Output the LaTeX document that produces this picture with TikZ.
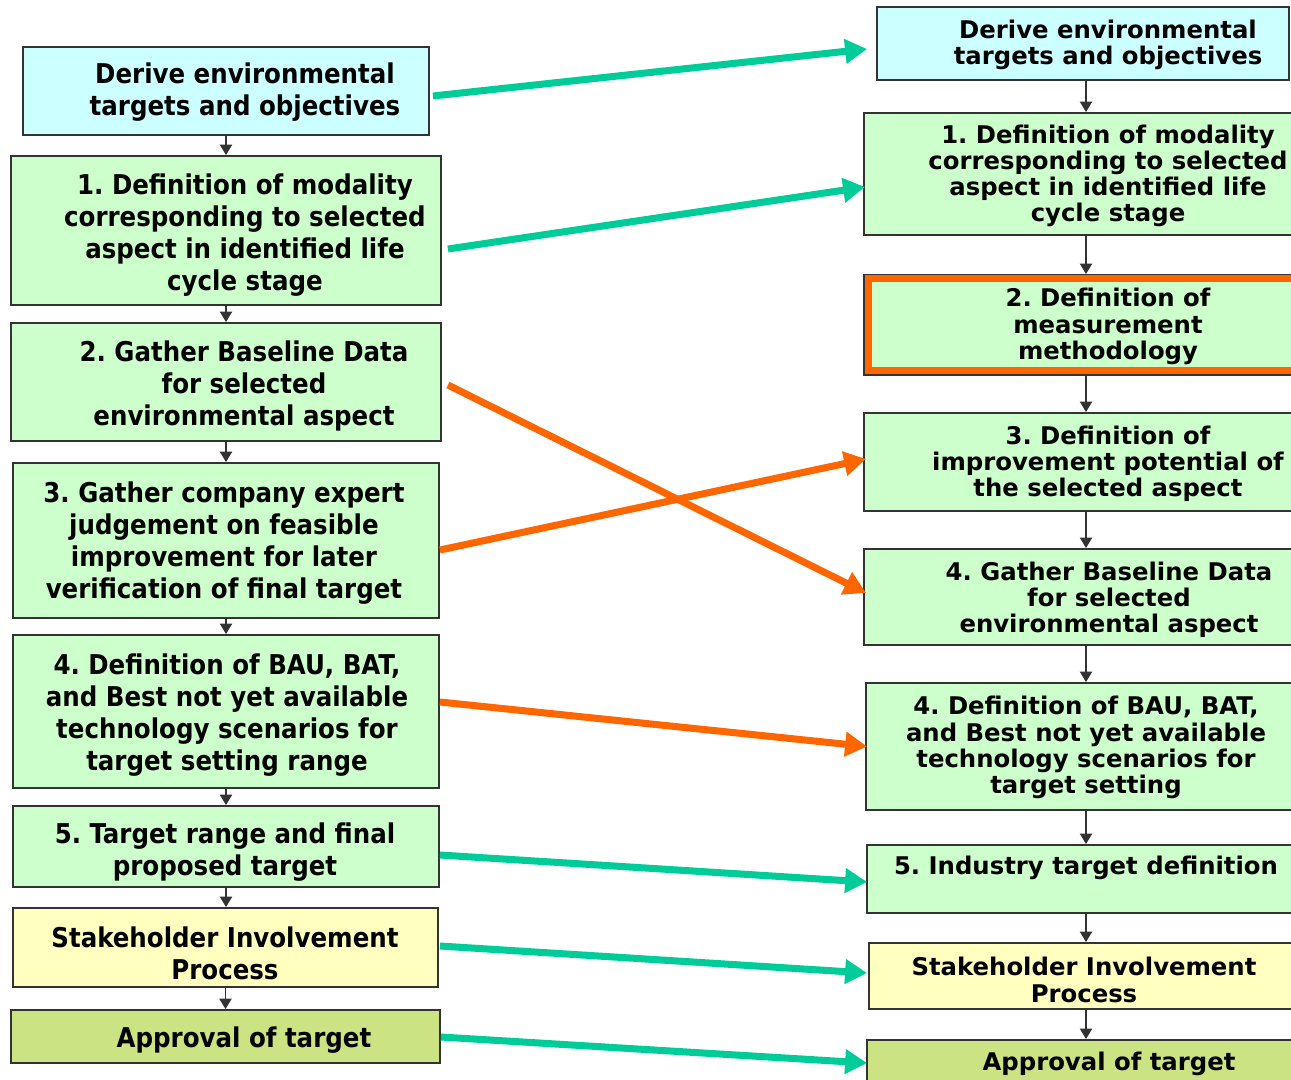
\documentclass[tikz,border=0pt]{standalone}
\usepackage{fontspec}
\newfontfamily\leftfont{DejaVu Sans Condensed}
\newfontfamily\rightfont{DejaVu Sans}
\usetikzlibrary{calc}
\usetikzlibrary{arrows.meta}

\definecolor{boxcyan}{HTML}{CCFFFF}
\definecolor{boxgreen}{HTML}{CCFFCC}
\definecolor{boxyellow}{HTML}{FFFFC0}
\definecolor{boxolive}{HTML}{CCE383}
\definecolor{linkteal}{HTML}{00CC99}
\definecolor{linkorange}{HTML}{FF6600}

\frenchspacing

\begin{document}
\begin{tikzpicture}[x=0.02cm, y=-0.02cm,
  box/.style={draw=black!80, line width=1.1pt, inner sep=0pt},
  lefttext/.style={align=center, inner sep=0pt, font=\leftfont\bfseries\fontsize{15.5}{18.3}\selectfont},
  righttext/.style={align=center, inner sep=0pt, font=\rightfont\bfseries\fontsize{13.85}{14.9}\selectfont},
  flow/.style={draw=black!80, line width=0.9pt, -{Triangle[length=6pt, width=7pt]}},
  link/.style={line width=4pt, -{Triangle[length=12.5pt, width=13.5pt]}}]

\useasboundingbox (0,0) rectangle (1291,1079);
\clip (0,0) rectangle (1291,1079);

% left column
\node[box, fill=boxcyan, minimum width=8.12cm, minimum height=1.76cm] (L0) at (226,91) {};
\node[box, fill=boxgreen, minimum width=8.6cm, minimum height=2.98cm] (L1) at (226,230.5) {};
\node[box, fill=boxgreen, minimum width=8.6cm, minimum height=2.36cm] (L2) at (226,382) {};
\node[box, fill=boxgreen, minimum width=8.52cm, minimum height=3.1cm] (L3) at (226,540.5) {};
\node[box, fill=boxgreen, minimum width=8.52cm, minimum height=3.06cm] (L4) at (226,711.5) {};
\node[box, fill=boxgreen, minimum width=8.52cm, minimum height=1.62cm] (L5) at (226,846.5) {};
\node[box, fill=boxyellow, minimum width=8.5cm, minimum height=1.58cm] (L6) at (225.5,947.5) {};
\node[box, fill=boxolive, minimum width=8.58cm, minimum height=1.06cm] (L7) at (225.5,1036.5) {};

\node[lefttext] (L0t) at (245,92) {Derive environmental\\targets and objectives};
\node[lefttext] (L1t) at (245,235) {1. Definition of modality\\corresponding to selected\\aspect in identified life\\cycle stage};
\node[lefttext] (L2t) at (244,386) {2. Gather Baseline Data\\for selected\\environmental aspect};
\node[lefttext] (L3t) at (224,543) {3. Gather company expert\\judgement on feasible\\improvement for later\\verification of final target};
\node[lefttext] (L4t) at (227,715) {4. Definition of BAU, BAT,\\and Best not yet available\\technology scenarios for\\target setting range};
\node[lefttext] (L5t) at (225,852) {5. Target range and final\\proposed target};
\node[lefttext] (L6t) at (225,953) {Stakeholder Involvement\\Process};
\node[lefttext] (L7t) at (244,1040) {Approval of target};

% right column
\node[box, fill=boxcyan, minimum width=8.24cm, minimum height=1.46cm] (R0) at (1083,43.5) {};
\node[box, fill=boxgreen, minimum width=8.88cm, minimum height=2.44cm] (R1) at (1086,174) {};
\node[box, fill=boxgreen, minimum width=8.88cm, minimum height=2cm] (R2) at (1086,325) {};
\node[box, fill=boxgreen, minimum width=8.88cm, minimum height=1.96cm] (R3) at (1086,462) {};
\node[box, fill=boxgreen, minimum width=8.88cm, minimum height=1.92cm] (R4) at (1086,597) {};
\node[box, fill=boxgreen, minimum width=8.8cm, minimum height=2.54cm] (R5) at (1086,746.5) {};
\node[box, fill=boxgreen, minimum width=8.76cm, minimum height=1.36cm] (R6) at (1086,879) {};
\node[box, fill=boxyellow, minimum width=8.68cm, minimum height=1.32cm] (R7) at (1086,976) {};
\node[box, fill=boxolive, minimum width=8.76cm, minimum height=1.1cm] (R8) at (1086,1067.5) {};
\draw[linkorange, line width=4pt] ($(R2.north west)+(5,4)$) rectangle ($(R2.south east)+(-5,-5)$);

\node[righttext] (R0t) at (1108,44.5) {Derive environmental\\targets and objectives};
\node[righttext] (R1t) at (1108,176) {1. Definition of modality\\corresponding to selected\\aspect in identified life\\cycle stage};
\node[righttext] (R2t) at (1108,326.5) {2. Definition of\\measurement\\methodology};
\node[righttext] (R3t) at (1108,464) {3. Definition of\\improvement potential of\\the selected aspect};
\node[righttext] (R4t) at (1109,600) {4. Gather Baseline Data\\for selected\\environmental aspect};
\node[righttext] (R5t) at (1086,747.5) {4. Definition of BAU, BAT,\\and Best not yet available\\technology scenarios for\\target setting};
\node[righttext] (R6t) at (1086,868) {5. Industry target definition};
\node[righttext] (R7t) at (1084,980) {Stakeholder Involvement\\Process};
\node[righttext] (R8t) at (1109,1064) {Approval of target};

% steps
\draw[flow] (L0.south) -- (L0.south |- L1.north);
\draw[flow] (L1.south) -- (L1.south |- L2.north);
\draw[flow] (L2.south) -- (L2.south |- L3.north);
\draw[flow] (L3.south) -- (L3.south |- L4.north);
\draw[flow] (L4.south) -- (L4.south |- L5.north);
\draw[flow] (L5.south) -- (L5.south |- L6.north);
\draw[flow] (L6.south) -- (L6.south |- L7.north);
\draw[flow] (R0.south -| R1.north) -- (R1.north);
\draw[flow] (R1.south) -- (R2.north);
\draw[flow] (R2.south) -- (R3.north);
\draw[flow] (R3.south) -- (R4.north);
\draw[flow] (R4.south) -- (R5.north);
\draw[flow] (R5.south) -- (R6.north);
\draw[flow] (R6.south) -- (R7.north);
\draw[flow] (R7.south) -- (R8.north);

% links between the two versions
\draw[link, linkteal] ($(L0.east)+(3,5)$) -- ($(R0.west)+(-9,5.5)$);
\draw[link, linkteal] ($(L1.east)+(6,18.5)$) -- ($(R1.west)+(2,13)$);
\draw[link, linkorange] ($(L2.east)+(6,3)$) -- ($(R4.west)+(3,-4)$);
\draw[link, linkorange] ($(L3.east)+(0,9.5)$) -- ($(R3.west)+(3,-3)$);
\draw[link, linkorange] ($(L4.east)+(0,-9.5)$) -- ($(R5.west)+(2,0)$);
\draw[link, linkteal] ($(L5.east)+(0,8.5)$) -- ($(R6.west)+(1,3)$);
\draw[link, linkteal] ($(L6.east)+(1,-1.5)$) -- ($(R7.west)+(-1,-3)$);
\draw[link, linkteal] ($(L7.east)+(0,0.5)$) -- ($(R8.west)+(1,-4.5)$);

\end{tikzpicture}
\end{document}
